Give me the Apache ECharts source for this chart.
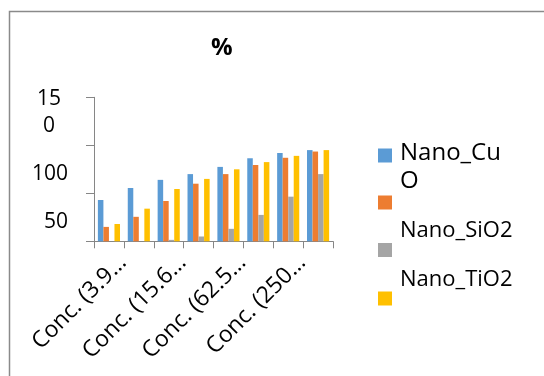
<!DOCTYPE html>
<html>
<head>
<meta charset="utf-8">
<script src="https://cdn.jsdelivr.net/npm/echarts@6/dist/echarts.min.js"></script>
<style>html,body{margin:0;padding:0;background:#fff;}#c{width:544px;height:376px;}</style>
</head>
<body>
<div id="c"></div>
<script>
const categories = ['Conc. (3.9…','Conc. (7.8…','Conc. (15.6…','Conc. (31.2…','Conc. (62.5…','Conc. (125…','Conc. (250…','Conc. (500…'];
const seriesNames = ['Nano_CuO','Series2','Nano_SiO2','Nano_TiO2'];
const legendLabels = ['{s| }\n{big|Nano_Cu}\n{big|O}','','{a|Nano_SiO2}\n{g| }','{a|Nano_TiO2}\n{h| }'];
const nanoCuO = [43,55.5,64,70,77.5,86.5,92,95];
const series2 = [15,25.5,42,60,70,79.5,87,93.5];
const nanoSiO2 = [0,0,1.5,5,13,27.5,46.5,70];
const nanoTiO2 = [18,34,54.5,65,75,82.5,89,95];
const yTicks = [0,50,100,150];
const titleText = '%';

const colors = ['#5B9BD5','#ED7D31','#A5A5A5','#FFC000'];
const values = [nanoCuO, series2, nanoSiO2, nanoTiO2];
const FONT = 'Open Sans';
const axisColor = '#868686';

const legendTops = [122.5, 195.5, 220, 269];

const chart = echarts.init(document.getElementById('c'));
chart.setOption({
  animation: false,
  backgroundColor: '#fff',
  title: {text: titleText, left: 206, top: 31,
    textStyle: {fontFamily: FONT, fontSize: 24, fontWeight: 'bold', color: '#000'}},
  graphic: [{type: 'rect', shape: {x: 9.5, y: 11.5, width: 600, height: 400},
    style: {fill: 'none', stroke: '#8a8a8a', lineWidth: 1.5}, silent: true}],
  legend: seriesNames.map((n, i) => ({
    data: [n], orient: 'vertical', left: 378, top: legendTops[i], padding: 0,
    itemWidth: 14, itemHeight: 14, icon: 'rect', selectedMode: false,
    formatter: () => legendLabels[i],
    textStyle: {fontFamily: FONT, fontSize: 22, color: '#000',
      rich: {
        s: {fontSize: 10, lineHeight: 23},
        big: {fontFamily: FONT, fontSize: 24, lineHeight: 28, color: '#000', padding: [0,0,0,3]},
        a: {fontFamily: FONT, fontSize: 22, lineHeight: 28, color: '#000', padding: [0,0,0,3]},
        g: {fontSize: 10, lineHeight: 38},
        h: {fontSize: 10, lineHeight: 37}
      }}
  })),
  grid: {left: 94, right: 211, top: 97.3, bottom: 134.7, containLabel: false},
  xAxis: {
    type: 'category', data: categories,
    axisLine: {lineStyle: {color: axisColor, width: 1}},
    axisTick: {show: true, interval: 0, length: 7, lineStyle: {color: axisColor}},
    axisLabel: {interval: 1, rotate: 45, margin: 4, lineHeight: 39, verticalAlign: 'top',
      fontFamily: FONT, fontSize: 23, color: '#000'}
  },
  yAxis: [{
    type: 'value', min: 0, max: 150, interval: 50, position: 'left',
    splitLine: {show: false},
    axisLine: {show: true, lineStyle: {color: axisColor, width: 1}},
    axisTick: {show: true, length: 8, lineStyle: {color: axisColor}},
    axisLabel: {margin: 26, verticalAlign: 'top', fontFamily: FONT, fontSize: 21, color: '#000',
      formatter: v => (v === yTicks[1] || v === yTicks[2]) ? '{e| }\n{n|' + v + '}' : '',
      rich: {
        e: {fontSize: 10, lineHeight: 19},
        n: {fontFamily: FONT, fontSize: 21, lineHeight: 20, color: '#000'}
      }
    }
  }, {
    type: 'value', min: 0, max: 150, interval: 50, position: 'left',
    splitLine: {show: false}, axisLine: {show: false}, axisTick: {show: false},
    axisLabel: {margin: 26, showMaxLabel: true, fontFamily: FONT, fontSize: 21, color: '#000',
      formatter: v => v === yTicks[3] ? '{e| }\n{c|15}\n{c|0}' : '',
      rich: {
        e: {fontSize: 10, lineHeight: 30.5},
        c: {width: 38, align: 'center', fontFamily: FONT, fontSize: 21, lineHeight: 26.5, color: '#000'}
      }
    }
  }],
  series: seriesNames.map((n, i) => ({
    name: n, type: 'bar', yAxisIndex: 0, data: values[i], barGap: '0%', barCategoryGap: '26%',
    itemStyle: {color: colors[i]}
  }))
});
</script>
</body>
</html>
